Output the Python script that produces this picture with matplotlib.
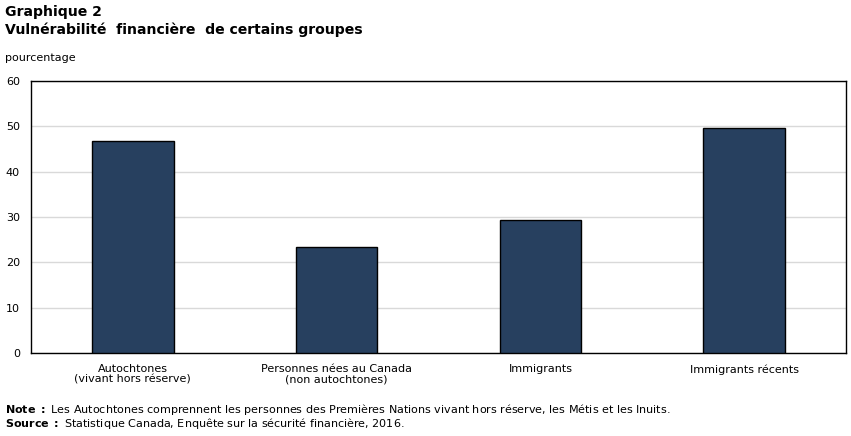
import matplotlib
matplotlib.use("Agg")
import matplotlib.pyplot as plt
import numpy as np

categories = ["Autochtones\n(vivant hors réserve)", "Personnes nées au Canada\n(non autochtones)",
              "Immigrants", "Immigrants récents"]
values = [46.7, 23.3, 29.3, 49.6]
yticks = [0, 10, 20, 30, 40, 50, 60]

plt.rcParams['font.family'] = ['DejaVu Sans']
fig = plt.figure(figsize=(8.51, 4.36), dpi=100)
W, H = 851, 436
ax = fig.add_axes([31/W, 1-353/H, (846-31)/W, (353-81)/H])

x = np.arange(len(categories))
ax.bar(x, values, width=0.4, color="#27405f", edgecolor="black", linewidth=1, zorder=3)
ax.set_xlim(-0.5, len(categories)-0.5)
ax.set_ylim(0, 60)
ax.set_yticks(yticks)
ax.set_yticklabels([str(t) for t in yticks], fontsize=8)
ax.set_xticks(x)
ax.set_xticklabels(categories, fontsize=8, linespacing=1.05)
ax.tick_params(axis='x', length=0, pad=8)
ax.tick_params(axis='y', length=0, pad=8)
ax.grid(axis='y', color="#d9d9d9", linewidth=1, zorder=0)
for s in ax.spines.values():
    s.set_linewidth(1)
    s.set_color("black")

fig.text(5/W, 1-12/H, "Graphique 2", fontsize=10.1, fontweight='bold', va='center', ha='left')
fig.text(5/W, 1-30/H, "Vulnérabilité  financière  de certains groupes", fontsize=10.1, fontweight='bold', va='center', ha='left')
fig.text(5/W, 1-58/H, "pourcentage", fontsize=8, va='center', ha='left')

fig.text(5/W, 1-409/H, r"$\bf{Note\ :}$ Les Autochtones comprennent les personnes des Premières Nations vivant hors réserve, les Métis et les Inuits.",
         fontsize=8, va='center', ha='left')
fig.text(5/W, 1-423/H, r"$\bf{Source\ :}$ Statistique Canada, Enquête sur la sécurité financière, 2016.",
         fontsize=8, va='center', ha='left')

fig.savefig("out.png", dpi=100)
